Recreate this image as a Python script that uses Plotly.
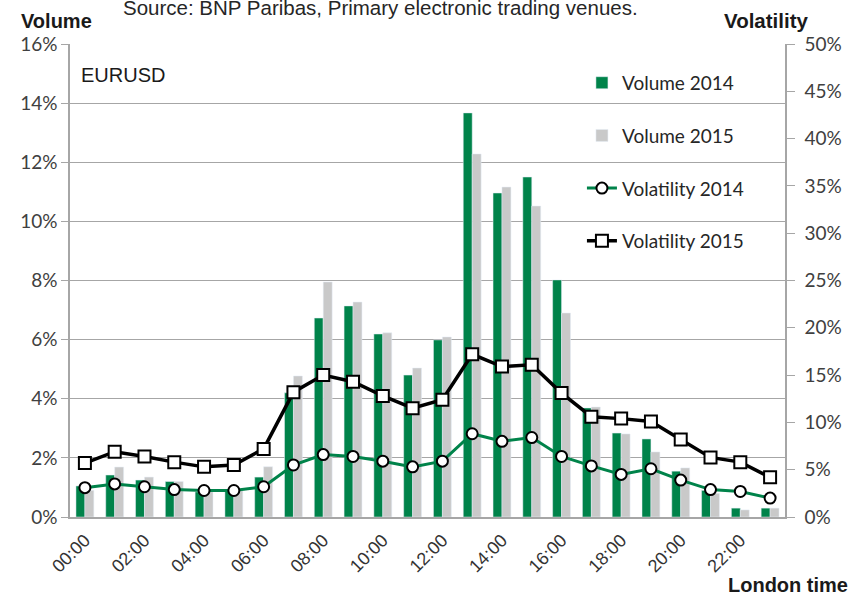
import plotly.graph_objects as go

# London time buckets
hours = ["%02d:00" % h for h in range(24)]
tick_hours = hours[::2]

# traded volume share per hour
volume_2014 = [0.0105, 0.0142, 0.0125, 0.0120, 0.0085, 0.0090, 0.0135, 0.0420,
               0.0673, 0.0714, 0.0619, 0.0480, 0.0599, 0.1367, 0.1096, 0.1150,
               0.0802, 0.0369, 0.0284, 0.0264, 0.0155, 0.0090, 0.0030, 0.0030]
volume_2015 = [0.0090, 0.0169, 0.0135, 0.0120, 0.0085, 0.0090, 0.0170, 0.0477,
               0.0795, 0.0727, 0.0623, 0.0504, 0.0609, 0.1228, 0.1116, 0.1052,
               0.0690, 0.0372, 0.0281, 0.0220, 0.0166, 0.0080, 0.0024, 0.0030]

# hourly volatility
vol_2014 = [0.031, 0.035, 0.032, 0.029, 0.028, 0.028, 0.032, 0.055,
            0.066, 0.064, 0.059, 0.053, 0.059, 0.088, 0.080, 0.084,
            0.064, 0.054, 0.045, 0.051, 0.039, 0.029, 0.027, 0.020]
vol_2015 = [0.057, 0.069, 0.064, 0.058, 0.053, 0.055, 0.072, 0.132,
            0.150, 0.143, 0.128, 0.115, 0.124, 0.172, 0.159, 0.161,
            0.131, 0.106, 0.104, 0.101, 0.082, 0.063, 0.058, 0.042]

green = "#00834A"
grey = "#C9C9C9"
grid = "#A6A6A6"
tick_font = dict(family="Lato, Open Sans, Arial", size=19, color="#404040")

fig = go.Figure()

fig.add_trace(go.Bar(x=hours, y=volume_2014, name="Volume 2014",
                     marker_color=green, legendgroup="a"))
fig.add_trace(go.Bar(x=hours, y=volume_2015, name="Volume 2015",
                     marker_color=grey, legendgroup="b"))
fig.add_trace(go.Scatter(x=hours, y=vol_2014, name="Volatility 2014", yaxis="y2",
                         mode="lines+markers", legendgroup="c",
                         line=dict(color=green, width=3),
                         marker=dict(symbol="circle", size=11, color="white",
                                     line=dict(color="black", width=2))))
fig.add_trace(go.Scatter(x=hours, y=vol_2015, name="Volatility 2015", yaxis="y2",
                         mode="lines+markers", legendgroup="d",
                         line=dict(color="black", width=3.5),
                         marker=dict(symbol="square", size=12, color="white",
                                     line=dict(color="black", width=2))))

fig.update_layout(
    width=852, height=595,
    margin=dict(l=70, r=67, t=44, b=78),
    paper_bgcolor="white", plot_bgcolor="white",
    barmode="group", bargap=0.4, bargroupgap=0,
    font=dict(family="Arial", color="#262626"),
    xaxis=dict(type="category", range=[-0.5, 23.5], automargin=False,
               tickmode="array", tickvals=tick_hours, ticktext=tick_hours,
               tickangle=-45, tickfont=dict(family="Arial", size=18, color="#333333"),
               ticklabelstandoff=4,
               showline=True, linecolor=grid, linewidth=1.5, showgrid=False, ticks=""),
    yaxis=dict(range=[0, 0.16], dtick=0.02, tickformat=".0%", tickfont=tick_font,
               automargin=False,
               showgrid=True, gridcolor=grid, gridwidth=1.3, zeroline=False,
               showline=True, linecolor=grid, linewidth=1.5,
               ticks="outside", ticklen=7, tickcolor=grid),
    yaxis2=dict(range=[0, 0.5], dtick=0.05, tickformat=".0%", tickfont=tick_font,
                automargin=False, ticklabelstandoff=6,
                overlaying="y", side="right", showgrid=False, zeroline=False,
                showline=True, linecolor=grid, linewidth=1.5,
                ticks="outside", ticklen=8, tickcolor=grid),
    legend=dict(x=0.716, y=0.958, xanchor="left", yanchor="top",
                bgcolor="rgba(0,0,0,0)", traceorder="grouped", tracegroupgap=25,
                font=dict(family="Lato, Open Sans, Arial", size=19, color="#262626")),
)

fig.add_annotation(text="Source: BNP Paribas, Primary electronic trading venues.",
                   xref="paper", yref="paper", x=0.434, y=1.077,
                   xanchor="center", yanchor="middle", showarrow=False,
                   font=dict(family="Arial", size=20.5, color="#262626"))
fig.add_annotation(text="<b>Volume</b>", xref="paper", yref="paper", x=-0.072, y=1.049,
                   xanchor="left", yanchor="middle", showarrow=False,
                   font=dict(family="Arial", size=20, color="#1a1a1a"))
fig.add_annotation(text="<b>Volatility</b>", xref="paper", yref="paper", x=1.036, y=1.049,
                   xanchor="right", yanchor="middle", showarrow=False,
                   font=dict(family="Arial", size=20.5, color="#1a1a1a"))
fig.add_annotation(text="EURUSD", xref="paper", yref="paper", x=0.013, y=0.934,
                   xanchor="left", yanchor="middle", showarrow=False,
                   font=dict(family="Arial", size=20, color="#1a1a1a"))
fig.add_annotation(text="<b>London time</b>", xref="paper", yref="paper", x=1.091, y=-0.143,
                   xanchor="right", yanchor="middle", showarrow=False,
                   font=dict(family="Arial", size=20, color="#1a1a1a"))

# drop the default body margin so the figure sits at the page corner
fig.write_html("out.html", config={"displayModeBar": False},
               post_script="document.body.style.margin='0px';")
